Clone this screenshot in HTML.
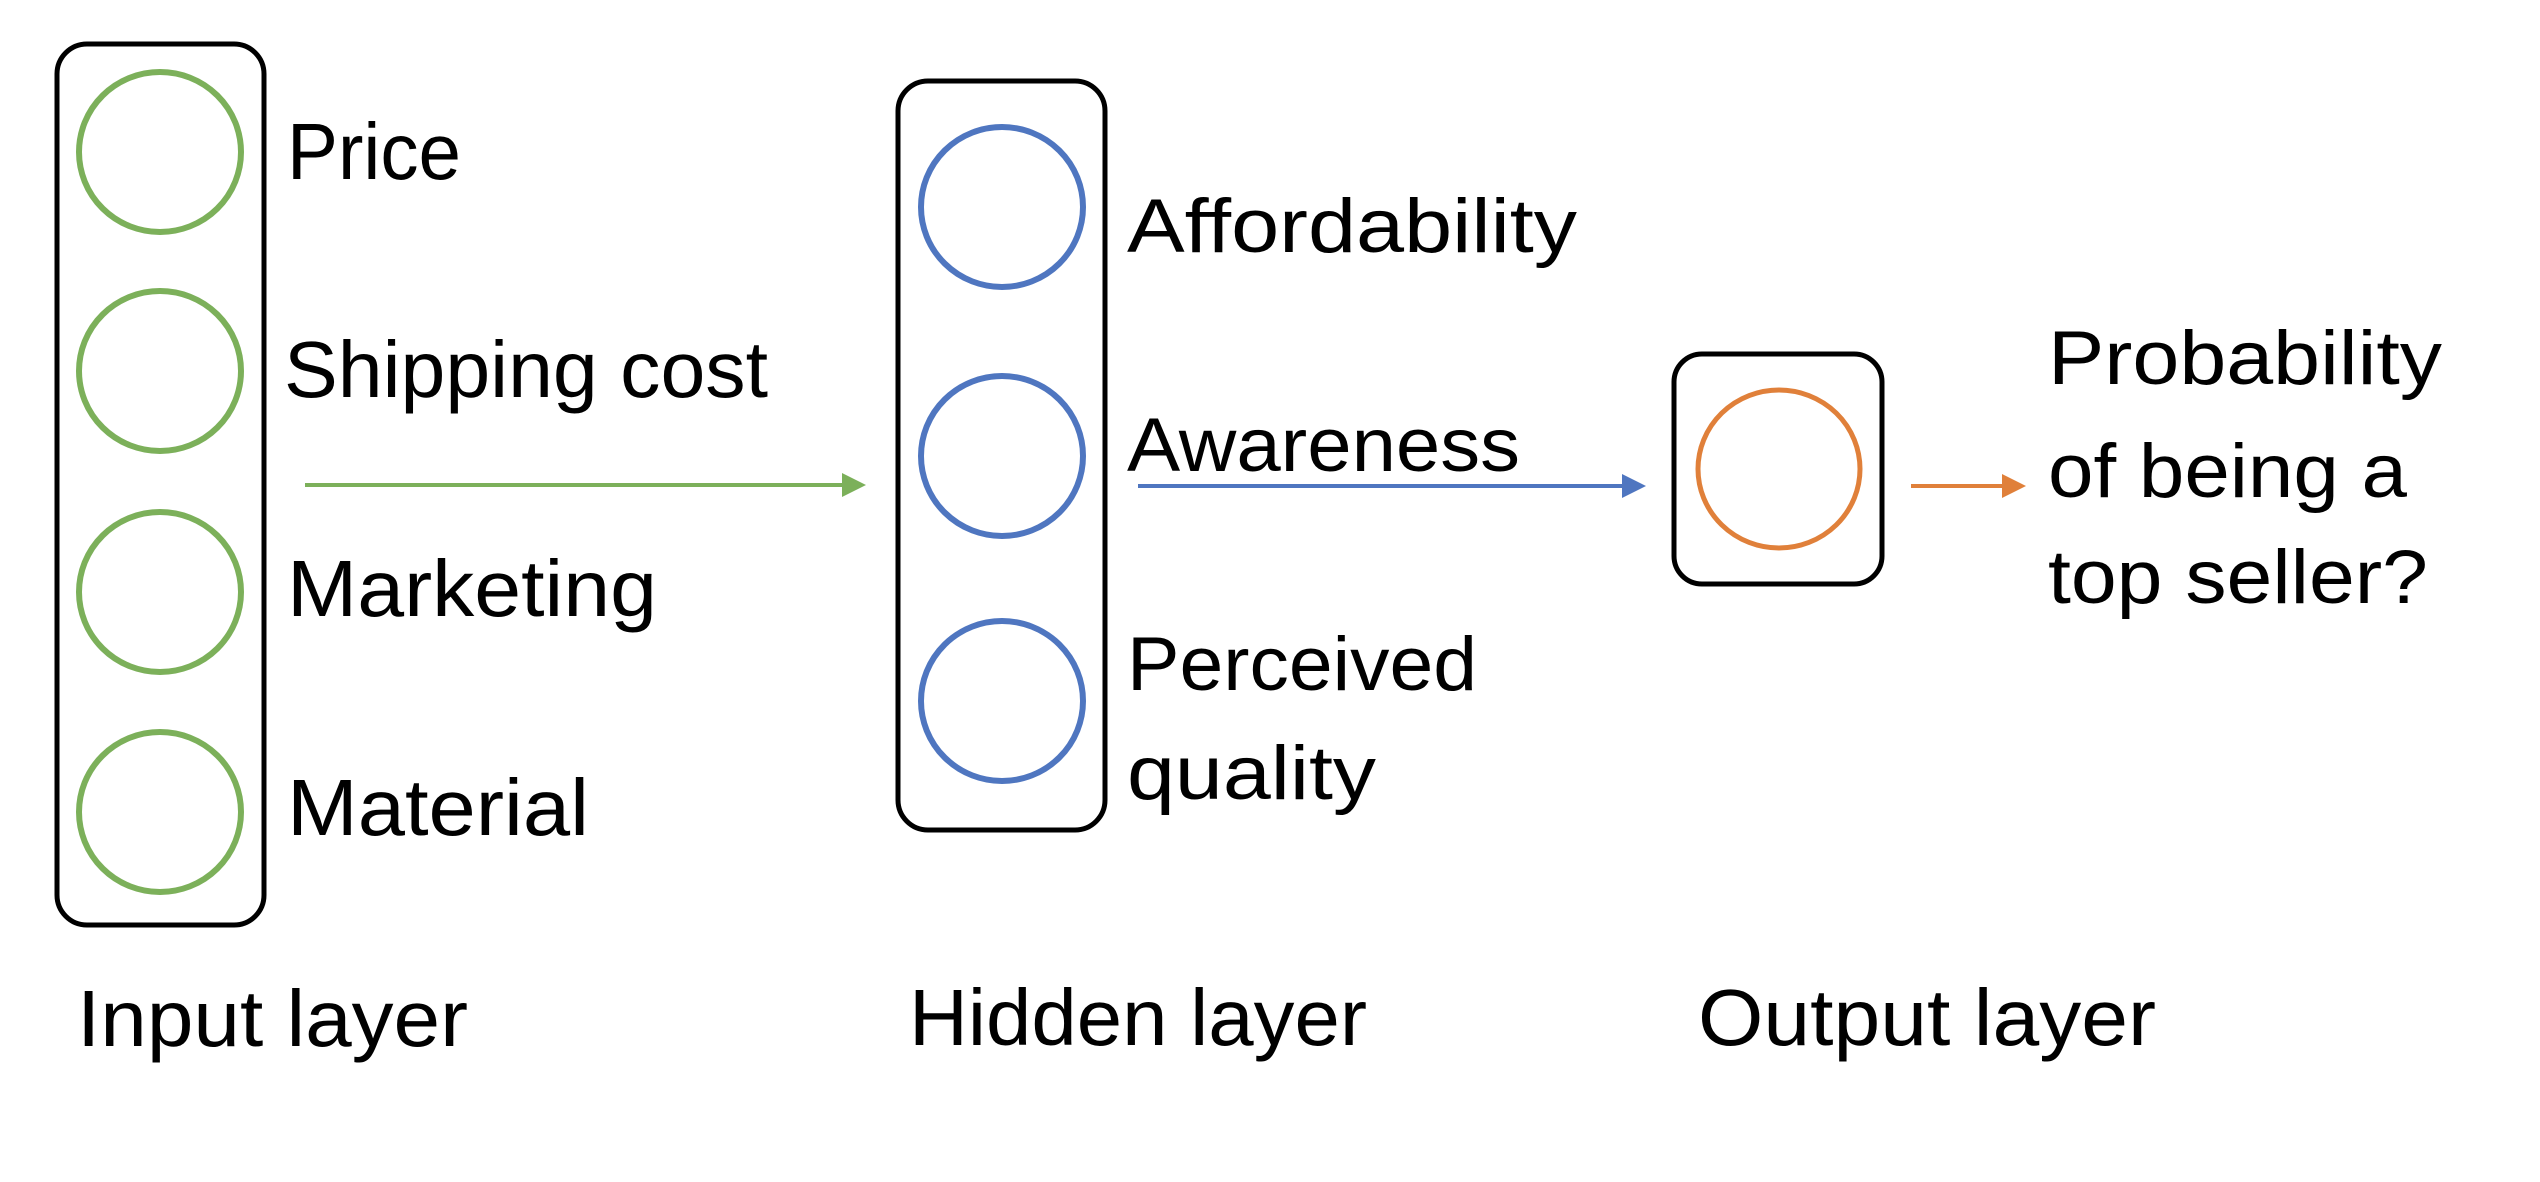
<!DOCTYPE html>
<html><head><meta charset="utf-8"><style>html,body{margin:0;padding:0;background:#fff}svg{display:block}</style></head>
<body>
<svg width="2540" height="1182" viewBox="0 0 2540 1182" xmlns="http://www.w3.org/2000/svg" font-family="Liberation Sans, sans-serif" fill="#000">
<defs>
<marker id="ag" markerWidth="6" markerHeight="6" refX="5" refY="3" orient="auto" markerUnits="strokeWidth"><path d="M0,0 L6,3 L0,6 z" fill="#7cb05a"/></marker>
<marker id="ab" markerWidth="6" markerHeight="6" refX="5" refY="3" orient="auto" markerUnits="strokeWidth"><path d="M0,0 L6,3 L0,6 z" fill="#4f76c0"/></marker>
<marker id="ao" markerWidth="6" markerHeight="6" refX="5" refY="3" orient="auto" markerUnits="strokeWidth"><path d="M0,0 L6,3 L0,6 z" fill="#e0803a"/></marker>
</defs>
<rect x="57" y="44" width="207" height="881" rx="30" fill="none" stroke="#000" stroke-width="5"/>
<g fill="none" stroke="#7cb05a" stroke-width="6">
<ellipse cx="160" cy="152" rx="81" ry="80"/>
<ellipse cx="160" cy="371" rx="81" ry="80"/>
<ellipse cx="160" cy="592" rx="81" ry="80"/>
<ellipse cx="160" cy="812" rx="81" ry="80"/>
</g>
<rect x="898" y="81" width="207" height="749" rx="30" fill="none" stroke="#000" stroke-width="5"/>
<g fill="none" stroke="#4f76c0" stroke-width="6">
<ellipse cx="1002" cy="207" rx="81" ry="80"/>
<ellipse cx="1002" cy="456" rx="81" ry="80"/>
<ellipse cx="1002" cy="701" rx="81" ry="80"/>
</g>
<rect x="1674" y="354" width="208" height="230" rx="28" fill="none" stroke="#000" stroke-width="5"/>
<ellipse cx="1779" cy="469" rx="81" ry="79" fill="none" stroke="#e0803a" stroke-width="5"/>
<line x1="305" y1="485" x2="862" y2="485" stroke="#7cb05a" stroke-width="4" marker-end="url(#ag)"/>
<line x1="1138" y1="486" x2="1642" y2="486" stroke="#4f76c0" stroke-width="4" marker-end="url(#ab)"/>
<line x1="1911" y1="486" x2="2022" y2="486" stroke="#e0803a" stroke-width="4" marker-end="url(#ao)"/>
<g font-size="80">
<text x="287" y="179" textLength="174" lengthAdjust="spacingAndGlyphs">Price</text>
<text x="284" y="397" textLength="484" lengthAdjust="spacingAndGlyphs">Shipping cost</text>
<text x="287" y="616" textLength="370" lengthAdjust="spacingAndGlyphs">Marketing</text>
<text x="287" y="835" textLength="302" lengthAdjust="spacingAndGlyphs">Material</text>
</g>
<g font-size="76">
<text x="1127" y="252" textLength="450" lengthAdjust="spacingAndGlyphs">Affordability</text>
<text x="1127" y="471" textLength="393" lengthAdjust="spacingAndGlyphs">Awareness</text>
<text x="1127" y="690" textLength="350" lengthAdjust="spacingAndGlyphs">Perceived</text>
<text x="1127" y="799" textLength="249" lengthAdjust="spacingAndGlyphs">quality</text>
<text x="2048" y="384" textLength="394" lengthAdjust="spacingAndGlyphs">Probability</text>
<text x="2048" y="497" textLength="359" lengthAdjust="spacingAndGlyphs">of being a</text>
<text x="2048" y="603" textLength="380" lengthAdjust="spacingAndGlyphs">top seller?</text>
</g>
<g font-size="80">
<text x="77" y="1046" textLength="391" lengthAdjust="spacingAndGlyphs">Input layer</text>
<text x="909" y="1045" textLength="458" lengthAdjust="spacingAndGlyphs">Hidden layer</text>
<text x="1698" y="1045" textLength="458" lengthAdjust="spacingAndGlyphs">Output layer</text>
</g>
</svg>
</body></html>
